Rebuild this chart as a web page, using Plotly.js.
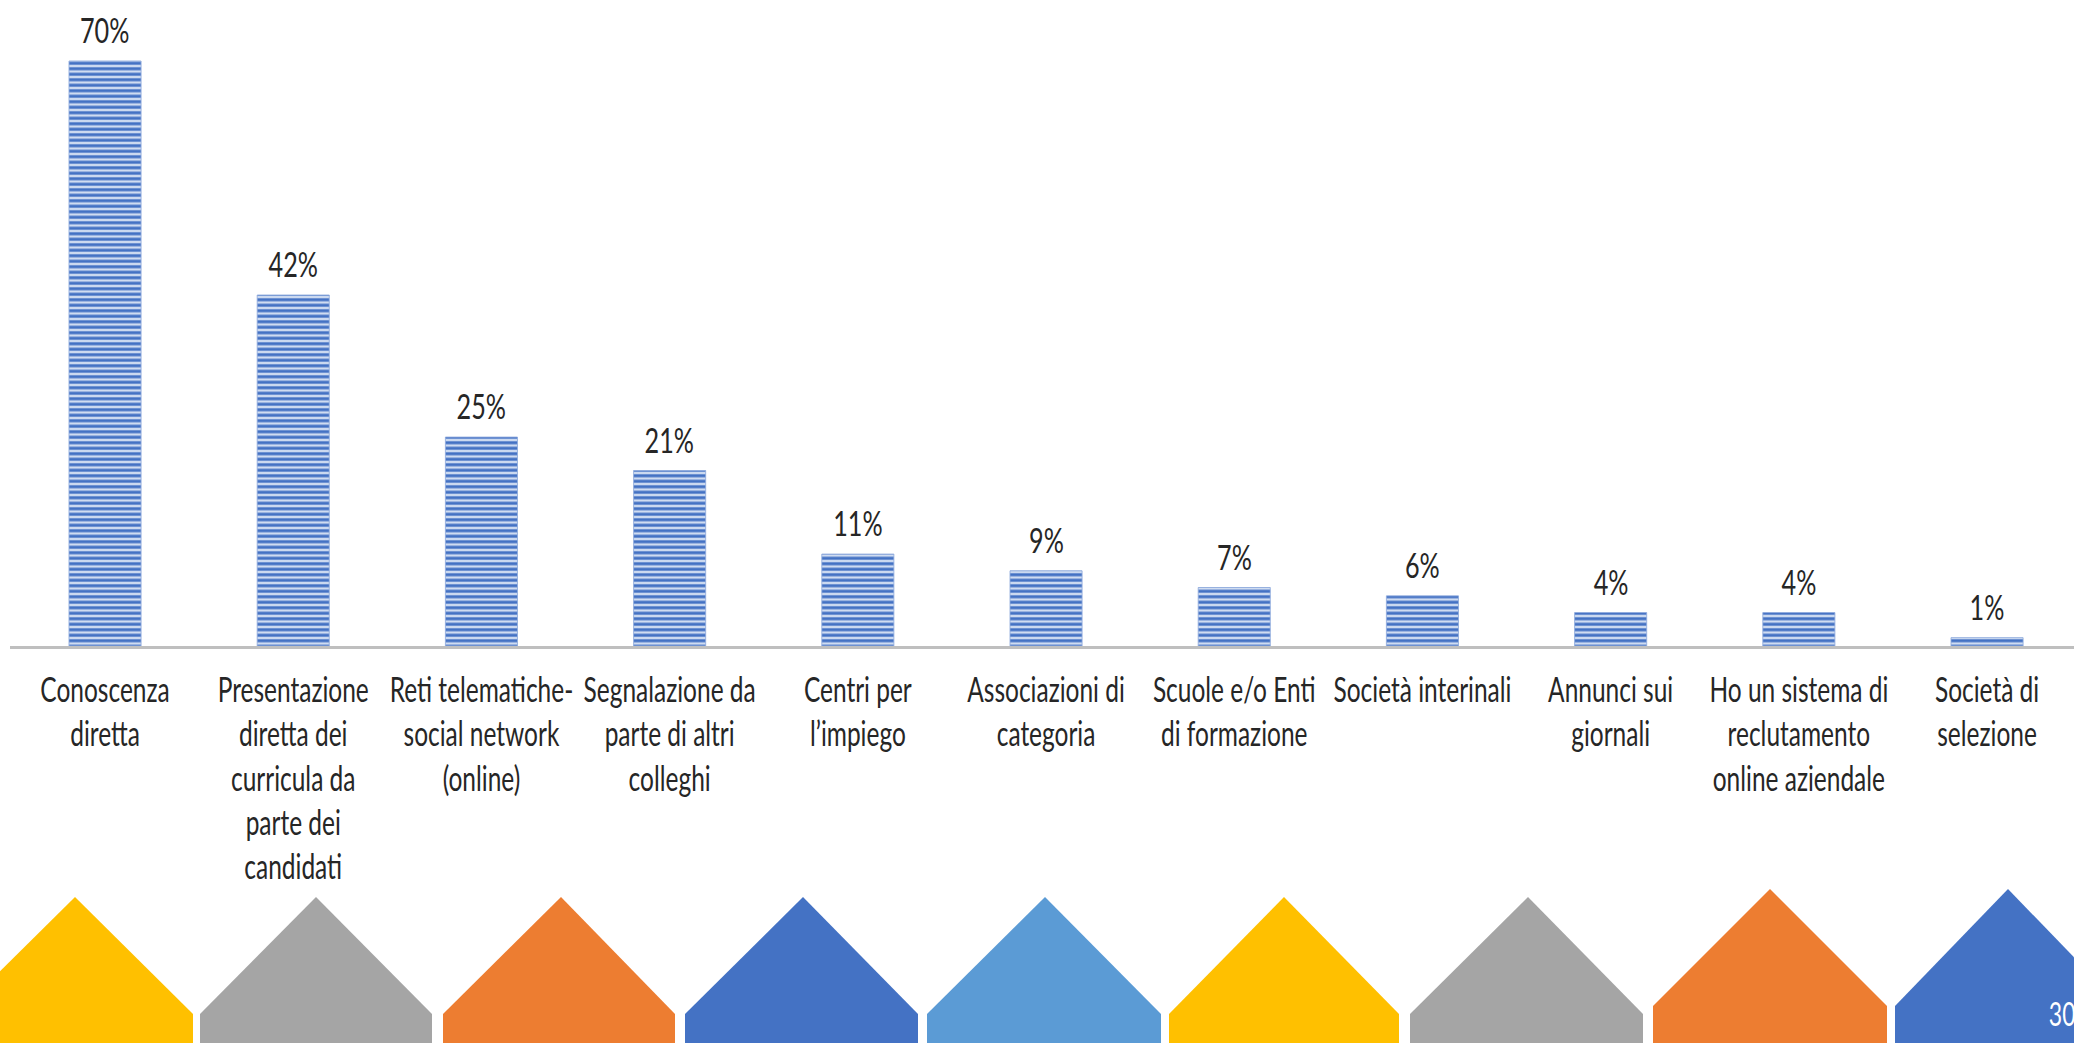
<!DOCTYPE html>
<html>
<head>
<meta charset="utf-8">
<script src="https://cdn.plot.ly/plotly-3.0.1.min.js"></script>
<style>
  html, body { margin: 0; padding: 0; background: #ffffff; overflow: hidden; width: 2074px; height: 1043px; }
  /* The source slide is horizontally condensed: draw it wide, then condense it to 2074px */
  #chart { width: 2880px; height: 1043px; transform: scaleX(0.720139); transform-origin: 0 0; }
</style>
</head>
<body>
<div id="chart"></div>
<script>
// ---- data ----
const categories = [
  "Conoscenza<br>diretta",
  "Presentazione<br>diretta dei<br>curricula da<br>parte dei<br>candidati",
  "Reti telematiche-<br>social network<br>(online)",
  "Segnalazione da<br>parte di altri<br>colleghi",
  "Centri per<br>l’impiego",
  "Associazioni di<br>categoria",
  "Scuole e/o Enti<br>di formazione",
  "Società interinali",
  "Annunci sui<br>giornali",
  "Ho un sistema di<br>reclutamento<br>online aziendale",
  "Società di<br>selezione"
];
const values = [70, 42, 25, 21, 11, 9, 7, 6, 4, 4, 1];
const valueLabels = ["70%", "42%", "25%", "21%", "11%", "9%", "7%", "6%", "4%", "4%", "1%"];

// ---- decorative footer (slide theme) ----
const houseColors = ["#FFC000", "#A5A5A5", "#ED7D31", "#4472C4", "#5B9BD5", "#FFC000", "#A5A5A5", "#ED7D31", "#4472C4"];
const houseLeft  = [-43, 200, 443, 685, 927, 1169, 1410, 1653, 1895];
const housePeak  = [75, 316, 561, 803, 1045, 1284, 1528, 1770, 2008];
const houseRight = [193, 432, 675, 918, 1161, 1399, 1643, 1887, 2121];
const housePeakY = [897, 897, 897, 897, 897, 897, 897, 889, 889];
const pageNumber = "30";

const VW = 2074, W = 2880, H = 1043;   // visible width, drawing width, height
const FONT = "Lato, 'Open Sans', sans-serif";
const px = x => x / VW;
const py = y => 1 - y / H;

const shapes = houseColors.map((c, i) => {
  const l = houseLeft[i], r = houseRight[i], p = housePeak[i], t = housePeakY[i];
  const sh = t + 117;
  const path = `M ${px(l)} ${py(H + 5)} L ${px(l)} ${py(sh)} L ${px(p)} ${py(t)} L ${px(r)} ${py(sh)} L ${px(r)} ${py(H + 5)} Z`;
  return { type: 'path', xref: 'paper', yref: 'paper', path: path, fillcolor: c, line: { width: 0 }, layer: 'above' };
});

const annotations = values.map((v, i) => ({
  x: categories[i], y: v, xref: 'x', yref: 'y',
  text: valueLabels[i], showarrow: false, yanchor: 'bottom', yshift: 9,
  font: { family: FONT, size: 35, color: '#262626' }
}));
annotations.push({
  xref: 'paper', yref: 'paper', x: px(2047), y: py(1013), xanchor: 'left', yanchor: 'middle',
  text: pageNumber, showarrow: false, font: { family: FONT, size: 32, color: '#ffffff' }
});

const trace = {
  type: 'bar',
  x: categories,
  y: values,
  marker: {
    color: '#4472C4',
    line: { color: '#8eaadc', width: 1 },
    pattern: { shape: '-', fillmode: 'replace', fgcolor: '#4472C4', bgcolor: '#cfdcf1', size: 5.5, solidity: 0.55 }
  },
  hoverinfo: 'skip'
};

const layout = {
  width: W, height: H,
  margin: { l: 0, r: 0, t: 0, b: 0, pad: 0 },
  paper_bgcolor: '#ffffff', plot_bgcolor: '#ffffff',
  showlegend: false,
  bargap: 0.617,
  xaxis: {
    type: 'category',
    domain: [0.005, 1],
    range: [-0.503, 10.462],
    showgrid: false, zeroline: false,
    showline: true, linecolor: '#BFBFBF', linewidth: 2.5,
    ticks: '', ticklabelstandoff: 13,
    tickangle: 0,
    tickfont: { family: FONT, size: 34, color: '#262626' },
    fixedrange: true
  },
  yaxis: {
    domain: [397 / H, 1],
    range: [0, 77.3],
    visible: false, showgrid: false, zeroline: false,
    fixedrange: true
  },
  shapes: shapes,
  annotations: annotations
};

Plotly.newPlot('chart', [trace], layout, { displayModeBar: false, staticPlot: true });
</script>
</body>
</html>
